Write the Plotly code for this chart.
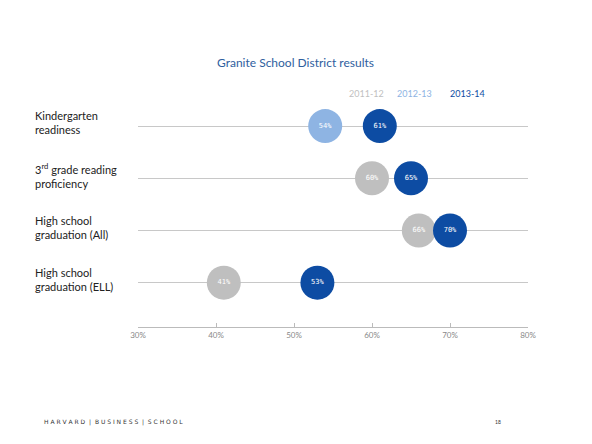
import plotly.graph_objects as go

# data
categories = ["Kindergarten<br>readiness",
              "3<sup>rd</sup> grade reading<br>proficiency",
              "High school<br>graduation (All)",
              "High school<br>graduation (ELL)"]
row_pos = [3, 2, 1, 0]
years = ["2011-12", "2012-13", "2013-14"]
vals_2011 = [None, 60, 66, 41]
vals_2012 = [54, None, None, None]
vals_2013 = [61, 65, 70, 53]
x_ticks = [30, 40, 50, 60, 70, 80]
x_tick_text = ["30%", "40%", "50%", "60%", "70%", "80%"]

colors = ["#BFBFBF", "#8EB4E3", "#0D4CA3"]
series = [vals_2011, vals_2012, vals_2013]

fig = go.Figure()
for name, vals, col in zip(years, series, colors):
    xs = [v for v in vals if v is not None]
    ys = [r for v, r in zip(vals, row_pos) if v is not None]
    fig.add_trace(go.Scatter(
        x=xs, y=ys, mode="markers+text", name=name,
        marker=dict(size=34, color=col, line=dict(width=0)),
        text=[f"{v}%" for v in xs], textposition="middle center",
        textfont=dict(color="white", size=7, family="DejaVu Sans Mono"),
        cliponaxis=False, showlegend=False))

# row labels, left aligned
for lab, r in zip(categories, row_pos):
    fig.add_annotation(x=-0.27, xref="paper", y=r + 0.06, yref="y", text=lab,
                       showarrow=False, xanchor="left", yanchor="middle", align="left",
                       font=dict(size=11, color="#222222", family="Lato"))

# legend as coloured text above the plot
leg_left = [0.535, 0.66, 0.795]
for name, col, px in zip(years, colors, leg_left):
    fig.add_annotation(x=px, xref="paper", y=1.0, yref="paper", yshift=7,
                       xanchor="left", yanchor="middle",
                       text=name, showarrow=False,
                       font=dict(size=9, color=col, family="Lato"))

fig.add_annotation(x=0.403, xref="paper", y=1.0, yref="paper", yshift=38,
                   yanchor="middle", text="Granite School District results",
                   showarrow=False, font=dict(size=12, color="#2F5E9E", family="Lato"))

# footer
fig.add_annotation(x=-0.246, xref="paper", y=0, yref="paper", yshift=-95,
                   xanchor="left", yanchor="middle",
                   text="H A R V A R D  |  B U S I N E S S  |  S C H O O L",
                   showarrow=False, font=dict(size=6, color="#333333", family="DejaVu Sans"))
fig.add_annotation(x=0.936, xref="paper", y=0, yref="paper", yshift=-95,
                   yanchor="middle", text="18", showarrow=False,
                   font=dict(size=5, color="#333333"))

fig.update_xaxes(range=[30, 80], tickvals=x_ticks, ticktext=x_tick_text,
                 showgrid=False, zeroline=False, showline=True,
                 linecolor="#BBBBBB", linewidth=1, ticks="inside", ticklen=4,
                 tickcolor="#BBBBBB", tickfont=dict(size=8, color="#888888"))
fig.update_yaxes(range=[-0.85, 3.5], tickvals=row_pos, showticklabels=False,
                 showgrid=True, gridcolor="#C8C8C8", gridwidth=1, zeroline=False)

# page body has an 8px margin, so the plot margins are offset to compensate
fig.update_layout(width=592, height=444, margin=dict(l=130, r=72, t=92, b=125),
                  plot_bgcolor="white", paper_bgcolor="white",
                  font=dict(family="Lato"))

fig.write_html("out.html")
